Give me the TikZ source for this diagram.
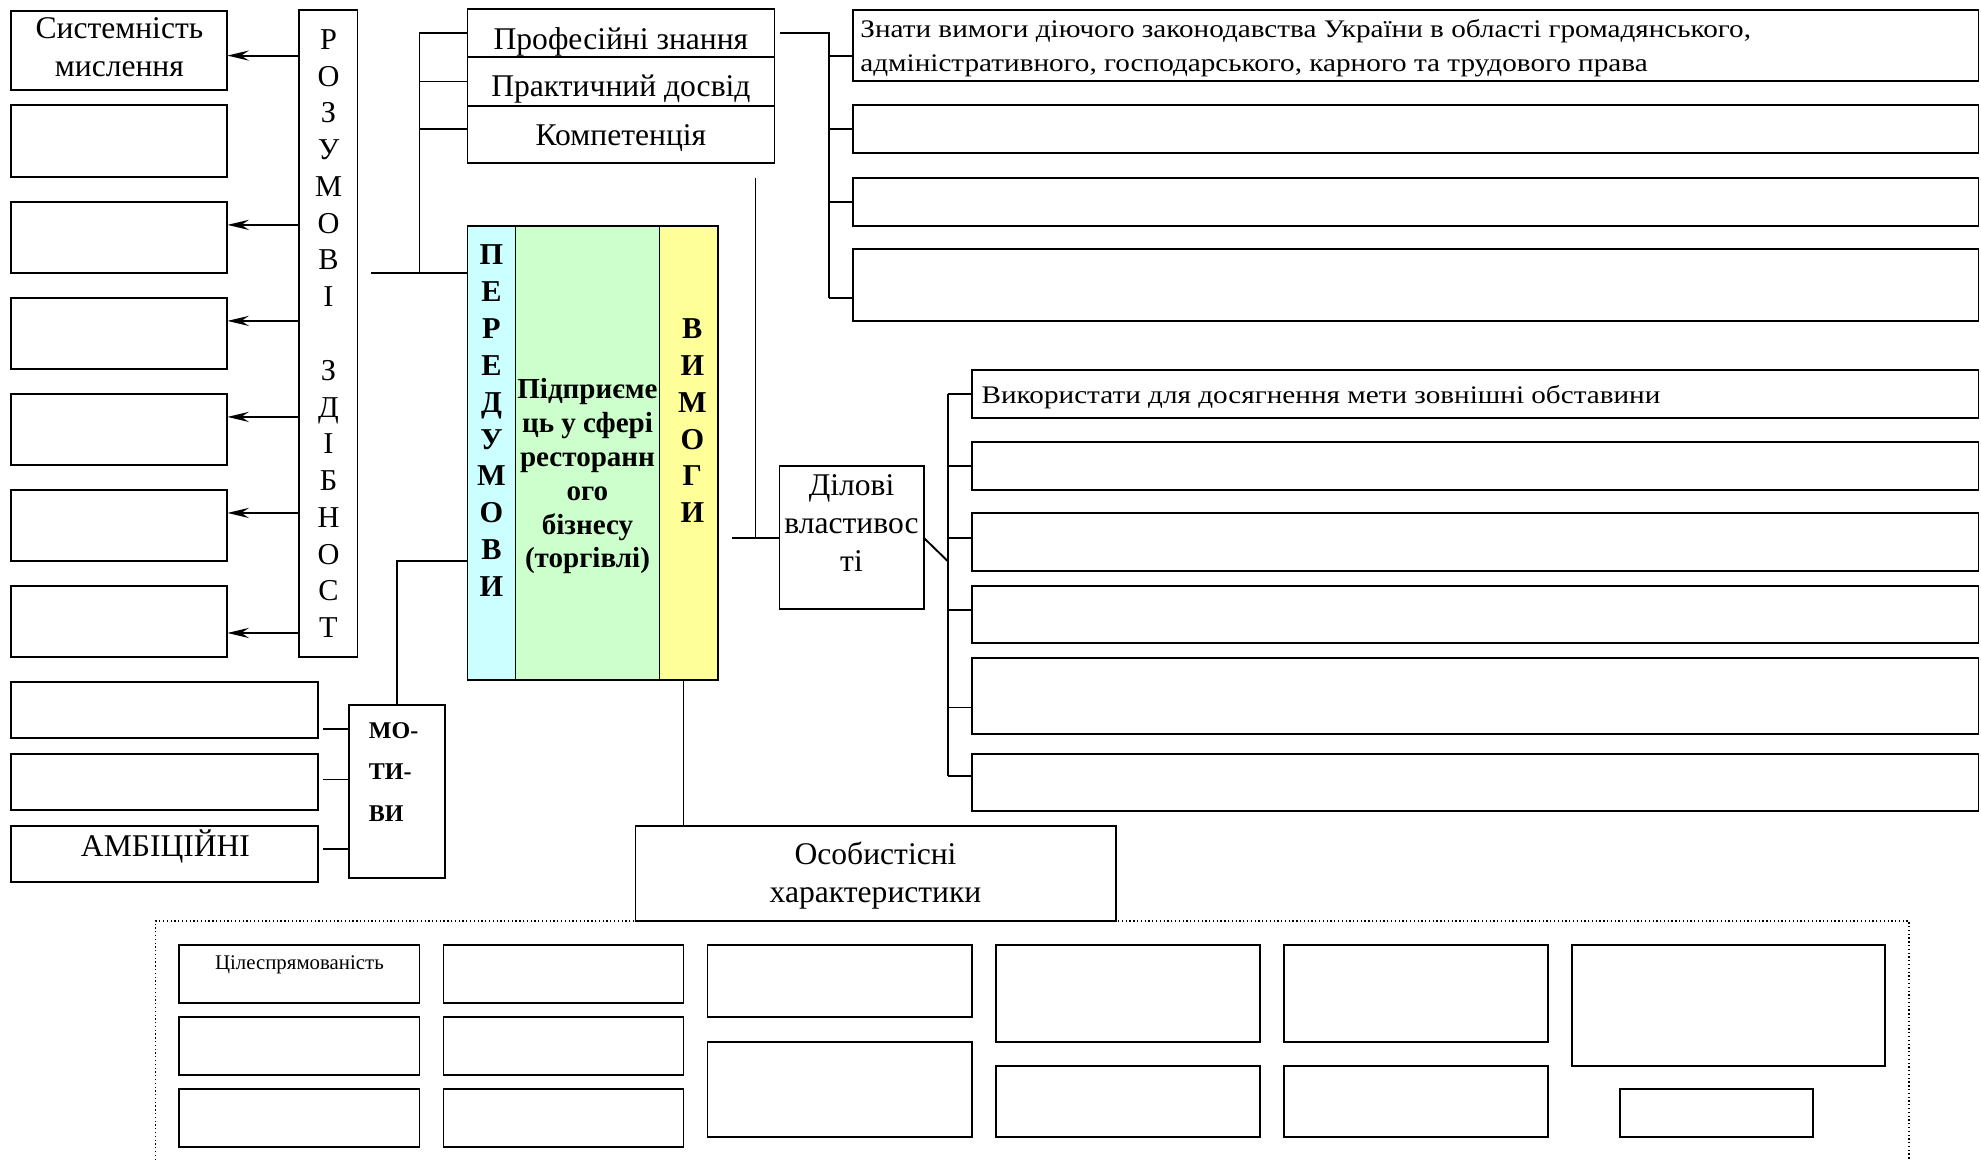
\documentclass[tikz,border=0pt]{standalone}
\usepackage{fontspec}
\setmainfont{Liberation Serif}
\newfontfamily\widefont[FakeStretch=1.155]{Liberation Serif}
\usetikzlibrary{arrows.meta,calc}
\definecolor{cyanc}{HTML}{CCFFFF}
\definecolor{greenc}{HTML}{CCFFCC}
\definecolor{yellowc}{HTML}{FFFF99}
\tikzset{
  box/.style={draw,line width=1.5pt,inner sep=0pt,outer sep=0pt,fill=white,align=center,font=\fontsize{25}{30}\selectfont},
  ln/.style={line width=1.5pt},
  arr/.style={line width=1.5pt,-{Stealth[length=17pt,width=8pt,inset=6pt]}},
  txt/.style={inner sep=0pt,outer sep=0pt,align=center},
  fmain/.style={font=\fontsize{25}{30}\selectfont},
  fwide/.style={font=\widefont\fontsize{20}{27}\selectfont},
  fvert/.style={font=\fontsize{24}{29.1}\selectfont},
  fvertb/.style={font=\bfseries\fontsize{24}{29.2}\selectfont},
}
\newcommand\bx[7][]{\node[box,minimum width={#5-#3},minimum height={#6-#4},#1] (#2) at ({(#3+#5)/2},{(#4+#6)/2}) {#7};}
\begin{document}
\begin{tikzpicture}[x=1pt,y=-1pt]
\useasboundingbox (0,0) rectangle (1568,918);
% dotted frame
\draw[line width=1pt,dotted] (123,930) -- (123,729) -- (1511,729) -- (1511,930);
% left column
\bx{l1}{9}{9}{180}{71}{}
\node[txt,fmain] (t-l1) at (94.5,37.5) {Системність\\мислення};
\bx{l2}{9}{83}{180}{140}{}
\bx{l3}{9}{160}{180}{216}{}
\bx{l4}{9}{236}{180}{292}{}
\bx{l5}{9}{312}{180}{368}{}
\bx{l6}{9}{388}{180}{444}{}
\bx{l7}{9}{464}{180}{520}{}
\bx[fvert]{roz}{237}{8}{283}{520}{Р\\О\\З\\У\\М\\О\\В\\І\\\strut\\З\\Д\\І\\Б\\Н\\О\\С\\Т}
% top middle
\bx{prof}{370}{7}{613}{45}{}
\bx{prak}{370}{45}{613}{84}{}
\bx{komp}{370}{84}{613}{129}{}
\node[txt,fmain] (t-prof) at (491.5,33) {Професійні знання};
\node[txt,fmain] (t-prak) at (491.5,70.7) {Практичний досвід};
\node[txt,fmain] (t-komp) at (491.5,109) {Компетенція};
% central
\bx[fill=cyanc]{pered}{370}{179}{408}{538}{}
\bx[fill=greenc]{pidp}{408}{179}{522}{538}{}
\bx[fill=yellowc]{vym}{522}{179}{568}{538}{}
\node[txt,fvertb] (t-pered) at (389,333) {П\\Е\\Р\\Е\\Д\\У\\М\\О\\В\\И};
\node[txt,font=\bfseries\fontsize{23}{26.8}\selectfont] (t-pidp) at (465,377) {Підприєме\\ць у сфері\\ресторанн\\ого\\бізнесу\\(торгівлі)};
\node[txt,fvertb] (t-vym) at (548,333) {В\\И\\М\\О\\Г\\И};
% motives
\bx{motiv}{276}{558}{352}{695}{}
\node[txt,align=left,anchor=west,font=\bfseries\fontsize{19}{33}\selectfont] (t-motiv) at (292,611) {МО-\\ТИ-\\ВИ};
\bx{m1}{9}{540}{252}{584}{}
\bx{m2}{9}{597}{252}{641}{}
\bx{m3}{9}{654}{252}{698}{}
\node[txt,fmain] (t-m3) at (131,670) {АМБІЦІЙНІ};
% top right
\bx{k1}{675}{8}{1566}{64}{}
\node[txt,align=left,anchor=west,fwide] (t-k1) at (681,38) {Знати вимоги діючого законодавства України в області громадянського,\\адміністративного, господарського, карного та трудового права};
\bx{k2}{675}{83}{1566}{121}{}
\bx{k3}{675}{141}{1566}{179}{}
\bx{k4}{675}{197}{1566}{254}{}
% ділові
\bx{del}{617}{369}{731}{482}{}
\node[txt,fmain] (t-del) at (674,414) {Ділові\\властивос\\ті};
\bx{d1}{769}{293}{1566}{331}{}
\node[txt,anchor=west,fwide] (t-d1) at (777,314.5) {Використати для досягнення мети зовнішні обставини};
\bx{d2}{769}{350}{1566}{388}{}
\bx{d3}{769}{406}{1566}{452}{}
\bx{d4}{769}{464}{1566}{509}{}
\bx{d5}{769}{521}{1566}{581}{}
\bx{d6}{769}{597}{1566}{642}{}
% особистісні
\bx{osob}{503}{654}{883}{729}{}
\node[txt,fmain] (t-osob) at (693,693) {Особистісні\\характеристики};
% bottom boxes
\bx[label={[anchor=north,inner sep=0pt,yshift=-8pt,font=\fontsize{16.5}{18}\selectfont]north:Цілеспрямованість}]{b11}{142}{748}{332}{794}{}
\bx{b12}{142}{805}{332}{851}{}
\bx{b13}{142}{862}{332}{908}{}
\bx{b21}{351}{748}{541}{794}{}
\bx{b22}{351}{805}{541}{851}{}
\bx{b23}{351}{862}{541}{908}{}
\bx{b31}{560}{748}{769}{805}{}
\bx{b32}{560}{825}{769}{900}{}
\bx{b41}{788}{748}{997}{825}{}
\bx{b42}{788}{844}{997}{900}{}
\bx{b51}{1016}{748}{1225}{825}{}
\bx{b52}{1016}{844}{1225}{900}{}
\bx{b61}{1244}{748}{1492}{844}{}
\bx{b62}{1282}{862}{1435}{900}{}
% connectors
\coordinate (pf) at (294,216);
\draw[ln] (pf) -- (pered.west |- pf);
\draw[ln] (prof.west) -| (332,216);
\draw[ln] (332,64.5) -- (prak.west);
\draw[ln] (332,102) -- (komp.west |- 0,102);
\foreach \bb/\yy in {l1/44,l3/178,l4/254,l5/330,l6/406,l7/501}
  \draw[arr] (roz.west |- 0,\yy) -- (\bb.east |- 0,\yy);
\draw[ln] (pered.west |- 0,444) -| (motiv.north);
\foreach \bb/\yy in {m1/577,m2/617,m3/672}{
  \coordinate (\bb e) at (256,\yy);
  \draw[ln] (\bb e) -- (motiv.west |- \bb e);}
\coordinate (tr) at (617,26);
\draw[ln] (tr) -- (656,26) -- (656,236);
\foreach \bb/\yy in {k1/44,k2/102,k3/160,k4/236}
  \draw[ln] (656,\yy) -- (\bb.west |- 0,\yy);
\coordinate (vtop) at (598,141);
\coordinate (hl) at (579,425.5);
\draw[ln] (vtop) -- (vtop |- del.west);
\draw[ln] (hl) -- (del.west);
\draw[ln] (del.east) -- (750,444);
\draw[ln] (750,312) -- (750,614);
\foreach \bb/\yy in {d1/312,d2/369,d3/426,d4/483,d5/560,d6/614}
  \draw[ln] (750,\yy) -- (\bb.west |- 0,\yy);
\draw[ln] (vym.south -| 541,0) -- (osob.north -| 541,0);
\end{tikzpicture}
\end{document}
